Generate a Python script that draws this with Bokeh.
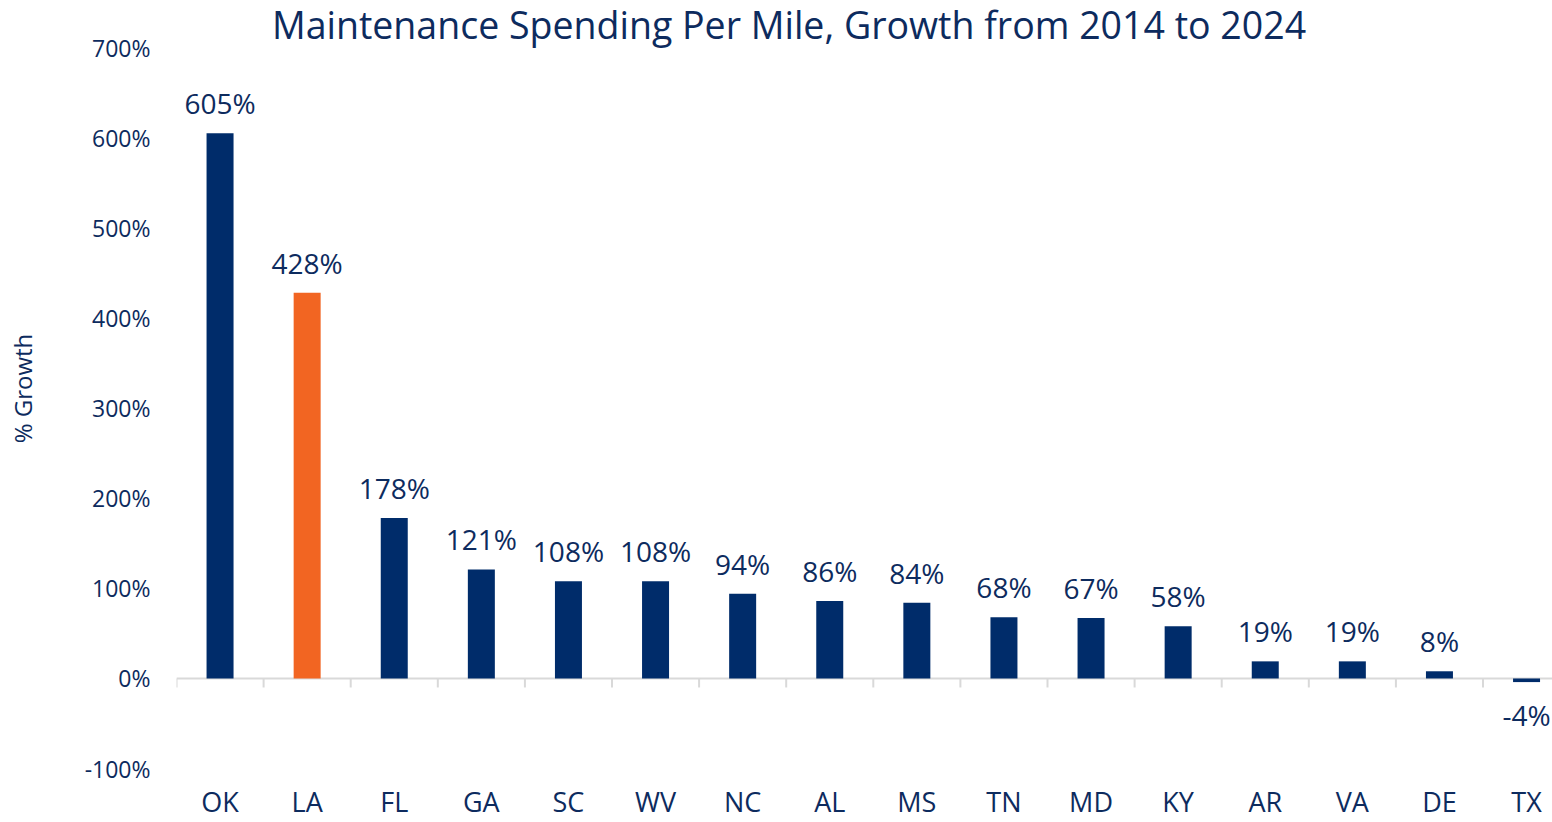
import numpy as np
from bokeh.plotting import figure
from bokeh.models import (Range1d, FixedTicker, PrintfTickFormatter, Span,
                          ColumnDataSource)
from bokeh.embed import file_html
from bokeh.resources import INLINE
from bokeh.core.properties import value

# ---------------- data ----------------
states = ["OK", "LA", "FL", "GA", "SC", "WV", "NC", "AL", "MS", "TN",
          "MD", "KY", "AR", "VA", "DE", "TX"]
growth = [605, 428, 178, 121, 108, 108, 94, 86, 84, 68, 67, 58, 19, 19, 8, -4]
highlight = "LA"
y_ticks = [-100, 0, 100, 200, 300, 400, 500, 600, 700]
title_text = "Maintenance Spending Per Mile, Growth from 2014 to 2024"
y_title = "% Growth"

# ---------------- style ----------------
NAVY = "#002C6A"
ORANGE = "#F26522"
TEXT = "#0D2B5E"
GREY = "#D9D9D9"
FONT = "Open Sans"

W, H = 1552, 822
LEFT, BOTTOM = 176, 46
TOP_GAP = 47            # px between canvas top and the top tick
SLOT = 87.1             # pixels per category slot
PY = 0.9014             # pixels per percentage point

n = len(states)
xs = np.arange(n)
x_end = -0.5 + (W - LEFT) / SLOT
y_top = y_ticks[-1] + TOP_GAP / PY
y_bottom = y_top - (H - BOTTOM) / PY

src = ColumnDataSource(dict(
    x=xs,
    y=growth,
    color=[ORANGE if s == highlight else NAVY for s in states],
    label=[f"{v}%" for v in growth],
    yoff=[-30 if v >= 0 else 33 for v in growth],
))

p = figure(width=W, height=H,
           x_range=Range1d(-0.5, x_end), y_range=Range1d(y_bottom, y_top),
           output_backend="svg", toolbar_location=None,
           min_border_left=LEFT, min_border_right=0,
           min_border_top=0, min_border_bottom=BOTTOM)
p.outline_line_color = None
p.grid.visible = False
p.background_fill_color = "white"
p.border_fill_color = "white"

# zero line and category separators
p.add_layout(Span(location=0, dimension="width", line_color=GREY, line_width=2,
                  level="underlay"))
bounds = np.arange(n + 1) - 0.5
p.segment(x0=bounds, y0=np.zeros(n + 1), x1=bounds, y1=np.full(n + 1, -9 / PY),
          line_color=GREY, line_width=2)

# bars
p.vbar(x="x", top="y", width=27 / SLOT, fill_color="color", line_color=None,
       source=src)

# data labels
p.text(x="x", y="y", text="label", source=src, y_offset="yoff",
       text_font=value(FONT), text_font_size=value("28px"), text_color=TEXT,
       text_align="center", text_baseline="alphabetic")

# chart title (drawn in the top strip of the plot area)
title_cx = 788.5     # px from canvas left, centre of the title
title_base = 24      # px from canvas top, anchor of the title
p.text(x=[-0.5 + (title_cx - LEFT) / SLOT], y=[y_top - title_base / PY],
       text=[title_text], text_font=value(FONT), text_font_size=value("37.5px"),
       text_color=TEXT, text_align="center", text_baseline="alphabetic")

# x axis (category labels)
xa = p.xaxis[0]
xa.ticker = FixedTicker(ticks=list(xs))
xa.major_label_overrides = {int(i): s for i, s in zip(xs, states)}
xa.axis_line_color = None
xa.major_tick_line_color = None
xa.minor_tick_line_color = None
xa.major_label_standoff = 0
xa.major_label_text_font = FONT
xa.major_label_text_font_size = "27px"
xa.major_label_text_color = TEXT

# y axis
ya = p.yaxis[0]
ya.ticker = FixedTicker(ticks=y_ticks)
ya.formatter = PrintfTickFormatter(format="%d%%")
ya.axis_line_color = None
ya.major_tick_line_color = None
ya.minor_tick_line_color = None
ya.major_label_standoff = 20
ya.major_label_text_font = FONT
ya.major_label_text_font_size = "23px"
ya.major_label_text_color = TEXT
ya.axis_label = y_title
ya.axis_label_standoff = 43
ya.axis_label_text_font = FONT
ya.axis_label_text_font_size = "24px"
ya.axis_label_text_font_style = "normal"
ya.axis_label_text_color = TEXT

open("out.html", "w").write(file_html(p, INLINE))
